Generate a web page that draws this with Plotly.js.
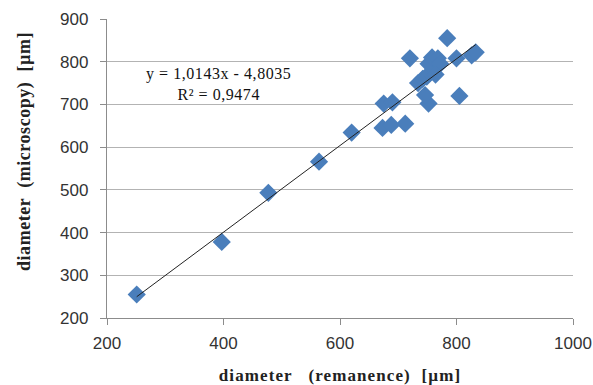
<!DOCTYPE html>
<html>
<head>
<meta charset="utf-8">
<script src="https://cdn.plot.ly/plotly-3.0.1.min.js"></script>
<style>
html,body{margin:0;padding:0;background:#fff;}
#chart{width:593px;height:385px;}
.g-xtitle text{letter-spacing:1.1px;}
.annotation-text{letter-spacing:0.55px;}
</style>
</head>
<body>
<div id="chart"></div>
<script>
// Data
var remanence = [251, 397, 477, 564, 620, 673, 688, 712, 675, 690, 720, 752, 746, 734, 742, 749, 755, 760, 752, 765, 758, 768, 772, 764, 784, 800, 805, 826, 833];
var microscopy = [255, 378, 493, 566, 634, 645, 652, 655, 702, 705, 808, 702, 722, 750, 760, 765, 775, 785, 795, 800, 810, 808, 795, 770, 855, 808, 720, 815, 822];
var slope = 1.0143;
var intercept = -4.8035;
var trendX = [Math.min.apply(null, remanence), Math.max.apply(null, remanence)];
var trendY = trendX.map(function (x) { return slope * x + intercept; });
var xTicks = [200, 400, 600, 800, 1000];
var yTicks = [200, 300, 400, 500, 600, 700, 800, 900];
var xTitle = 'diameter   (remanence)  [µm]';
var yTitle = 'diameter  (microscopy)  [µm]';
var equationText = 'y = 1,0143x - 4,8035<br>R² = 0,9474';

var traces = [
  {
    x: remanence, y: microscopy, mode: 'markers', type: 'scatter',
    marker: {symbol: 'diamond', size: 14, color: '#4A7EBB', line: {width: 0}},
    showlegend: false, hoverinfo: 'none'
  },
  {
    x: trendX, y: trendY, mode: 'lines', type: 'scatter',
    line: {color: '#222222', width: 1},
    showlegend: false, hoverinfo: 'none'
  }
];

var tickFont = {family: 'Liberation Sans, Arial, sans-serif', size: 17, color: '#333333'};
var titleFont = {family: 'Liberation Serif, Times New Roman, serif', size: 17, color: '#222222', weight: 'bold'};

var layout = {
  width: 593, height: 385,
  margin: {l: 107, r: 20, t: 19, b: 67},
  paper_bgcolor: '#ffffff', plot_bgcolor: '#ffffff',
  showlegend: false,
  xaxis: {
    range: [200, 1000], tickvals: xTicks, ticktext: xTicks.map(String),
    showgrid: false, zeroline: false,
    showline: true, linecolor: '#8c8c8c', linewidth: 1,
    ticks: 'outside', ticklen: 6, tickcolor: '#8c8c8c',
    ticklabelstandoff: 4,
    tickfont: tickFont,
    title: {text: xTitle, standoff: 17, font: titleFont}
  },
  yaxis: {
    range: [200, 900], tickvals: yTicks,
    ticktext: yTicks.map(function (v) { return String(v) + '\u00a0\u2009'; }),
    showgrid: true, gridcolor: '#b3b3b3', gridwidth: 1, zeroline: false,
    showline: true, linecolor: '#8c8c8c', linewidth: 1,
    ticks: 'outside', ticklen: 6, tickcolor: '#8c8c8c',
    tickfont: tickFont
  },
  annotations: [
    {
      xref: 'x', yref: 'y', x: 391, y: 749, showarrow: false,
      text: equationText, align: 'center',
      font: {family: 'Liberation Serif, Times New Roman, serif', size: 16, color: '#111111'}
    },
    {
      xref: 'paper', yref: 'paper', x: (24 - 107) / 466, y: (318 - 152) / 299,
      xanchor: 'center', yanchor: 'middle', textangle: -90, showarrow: false,
      text: yTitle,
      font: {family: 'Liberation Serif, Times New Roman, serif', size: 18, color: '#222222', weight: 'bold'}
    }
  ]
};

Plotly.newPlot('chart', traces, layout, {staticPlot: true, displayModeBar: false});
</script>
</body>
</html>
